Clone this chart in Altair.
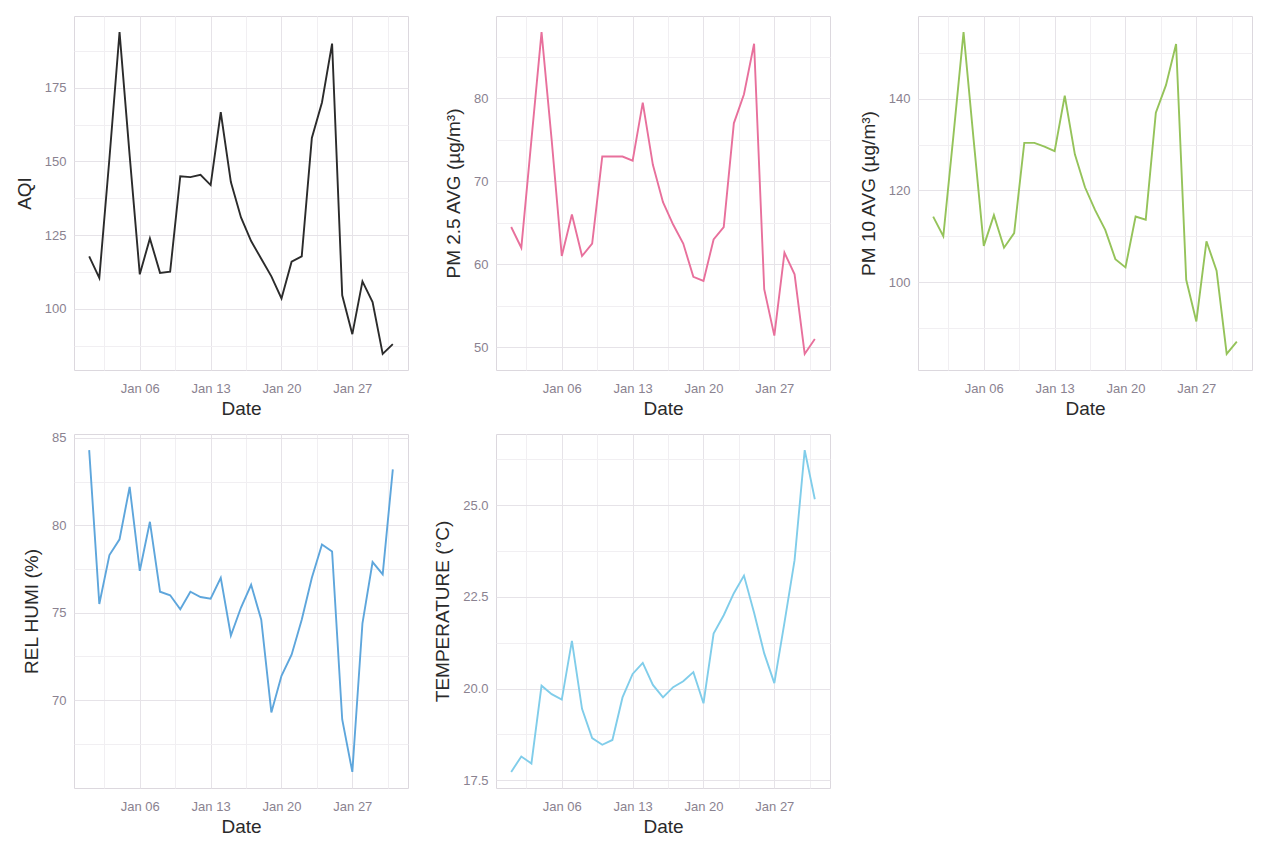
import altair as alt
import pandas as pd

# ---------------- data ----------------
dates = [f"2020-01-{d:02d}T00:00:00" for d in range(1, 32)]

aqi = [117.8, 110.5, 151.0, 193.9, 152.0, 111.7, 123.9, 112.2, 112.6, 145.0,
       144.7, 145.5, 142.0, 166.7, 143.0, 131.0, 123.0, 117.0, 111.0, 103.5,
       116.0, 117.8, 158.0, 170.0, 190.0, 104.6, 91.4, 109.3, 102.3, 84.7, 88.0]

pm25 = [64.5, 62.0, 75.0, 88.0, 75.0, 61.0, 66.0, 61.0, 62.5, 73.0,
        73.0, 73.0, 72.5, 79.5, 72.0, 67.5, 64.8, 62.5, 58.5, 58.0,
        63.0, 64.5, 77.0, 80.5, 86.6, 57.0, 51.4, 61.4, 58.8, 49.2, 51.0]

pm10 = [114.3, 110.0, 132.0, 154.6, 131.0, 107.9, 114.6, 107.5, 110.7, 130.4,
        130.4, 129.6, 128.6, 140.7, 127.9, 120.7, 115.7, 111.4, 105.0, 103.2,
        114.3, 113.6, 137.0, 143.0, 152.0, 100.5, 91.4, 108.9, 102.5, 84.3, 87.0]

rel_humi = [84.3, 75.5, 78.3, 79.2, 82.2, 77.4, 80.2, 76.2, 76.0, 75.2,
            76.2, 75.9, 75.8, 77.0, 73.7, 75.3, 76.6, 74.6, 69.3, 71.4,
            72.6, 74.6, 77.0, 78.9, 78.5, 68.9, 65.9, 74.4, 77.9, 77.2, 83.2]

temperature = [17.73, 18.15, 17.96, 20.08, 19.85, 19.7, 21.3, 19.45, 18.65, 18.47,
               18.6, 19.76, 20.4, 20.7, 20.1, 19.76, 20.04, 20.2, 20.45, 19.6,
               21.5, 22.0, 22.6, 23.08, 22.07, 20.96, 20.15, 21.8, 23.5, 26.5, 25.16]

x_major_days = [6, 13, 20, 27]
x_minor_days = [2, 9, 16, 23, 30]   # minor grid at mid-week (12:00)

FONT = "Liberation Sans"
LABEL_COLOR = "#8a8290"
TITLE_COLOR = "#2a2a2a"
GRID_MAJOR = "#e6e3e8"
GRID_MINOR = "#f1eff2"

W, H = 334, 354


def x_enc():
    vals = [alt.DateTime(year=2020, month=1, date=d) for d in x_major_days] + \
           [alt.DateTime(year=2020, month=1, date=d, hours=12) for d in x_minor_days]
    return alt.X(
        "Date:T",
        title="Date",
        scale=alt.Scale(domain=[alt.DateTime(year=2019, month=12, date=30, hours=12),
                                alt.DateTime(year=2020, month=2, date=1, hours=12)]),
        axis=alt.Axis(
            values=vals,
            labelExpr="hours(datum.value) == 0 ? timeFormat(datum.value, '%b %d') : ''",
            gridColor={"condition": {"test": "hours(datum.value) == 0", "value": GRID_MAJOR},
                       "value": GRID_MINOR},
            ticks=False, domain=False, labelPadding=12, titlePadding=4,
            labelFontSize=13, labelColor=LABEL_COLOR, labelFont=FONT,
            titleFontSize=19, titleFontWeight="normal", titleColor=TITLE_COLOR, titleFont=FONT,
        ),
    )


def panel(values, ytitle, color, major, minor, step, fmt):
    df = pd.DataFrame({"Date": dates, "v": values})
    lo, hi = min(values), max(values)
    pad = (hi - lo) * 0.05
    test = f"abs(datum.value / {step} - round(datum.value / {step})) < 1e-6"
    y = alt.Y(
        "v:Q",
        title=ytitle,
        scale=alt.Scale(domain=[lo - pad, hi + pad], nice=False, zero=False),
        axis=alt.Axis(
            values=sorted(major + minor),
            labelExpr=f"({test}) ? format(datum.value, '{fmt}') : ''",
            gridColor={"condition": {"test": test, "value": GRID_MAJOR}, "value": GRID_MINOR},
            ticks=False, domain=False, labelPadding=8, titlePadding=10,
            labelFontSize=13, labelColor=LABEL_COLOR, labelFont=FONT,
            titleFontSize=19, titleFontWeight="normal", titleColor=TITLE_COLOR, titleFont=FONT,
        ),
    )
    return (
        alt.Chart(df)
        .mark_line(color=color, strokeWidth=1.9)
        .encode(x=x_enc(), y=y)
        .properties(width=W, height=H)
    )


p1 = panel(aqi, "AQI", "#2b2b2b", [100, 125, 150, 175], [87.5, 112.5, 137.5, 162.5, 187.5], 25, "d")
p2 = panel(pm25, "PM 2.5 AVG (µg/m³)", "#e8709c", [50, 60, 70, 80], [55, 65, 75, 85], 10, "d")
p3 = panel(pm10, "PM 10 AVG (µg/m³)", "#95c35a", [100, 120, 140], [90, 110, 130, 150], 20, "d")
p4 = panel(rel_humi, "REL HUMI (%)", "#5ea6dc", [70, 75, 80, 85], [67.5, 72.5, 77.5, 82.5], 5, "d")
p5 = panel(temperature, "TEMPERATURE (°C)", "#80cdea", [17.5, 20, 22.5, 25], [18.75, 21.25, 23.75, 26.25], 2.5, ".1f")

chart = (
    alt.concat(p1, p2, p3, p4, p5, columns=3, spacing={"row": 64, "column": 88}, bounds="flush")
    .properties(padding={"left": 6, "top": 7, "right": 0, "bottom": 0}, background="white")
    .configure_view(stroke="#dcd8de", strokeWidth=1)
)

chart.save("out.html", embed_options={"renderer": "svg", "actions": False})
